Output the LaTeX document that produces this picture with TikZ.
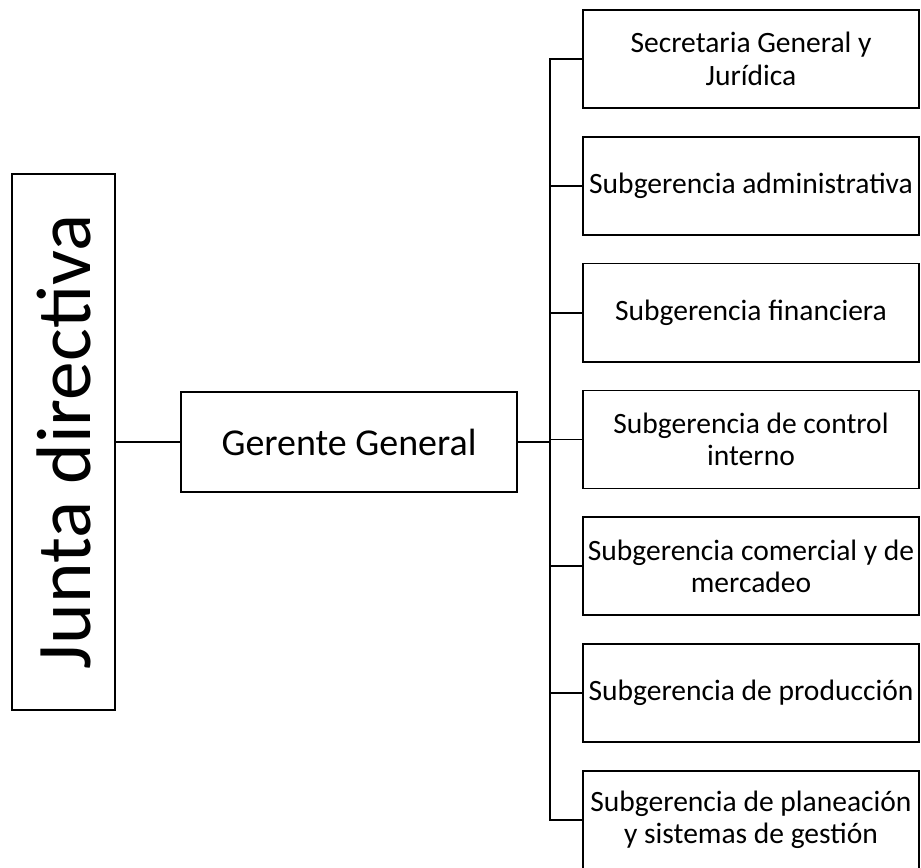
\documentclass[tikz,border=0pt]{standalone}
\usepackage{fontspec}
\setmainfont{Carlito}
\usetikzlibrary{positioning}
\tikzset{dept/.style={draw, line width=1.2pt, align=center, inner sep=1pt},
        subunit/.style={dept, minimum width=8.4cm, minimum height=2.45cm,
                        font=\fontsize{21}{23}\selectfont},
        link/.style={line width=1.2pt, line cap=rect},
        }

\begin{document}
\begin{tikzpicture}[x=0.025cm, y=-0.025cm]
    \useasboundingbox (0,0) rectangle (921,868);

    \node [dept, minimum width=2.575cm, minimum height=13.4cm] (junta) at (63.5,442)
        {\rotatebox{90}{\fontsize{55}{60}\selectfont Junta directiva}};

    \node [dept, minimum width=8.4cm, minimum height=2.5cm,
           font=\fontsize{27}{30}\selectfont] (gerente) at (349,442) {Gerente General};

    \foreach \txt [count=\i] in {{Secretaria General y\\Jur\'idica},
                                 {Subgerencia administrativa},
                                 {Subgerencia financiera},
                                 {Subgerencia de control\\interno},
                                 {Subgerencia comercial y de\\mercadeo},
                                 {Subgerencia de producci\'on},
                                 {Subgerencia de planeaci\'on\\y sistemas de gesti\'on}}
        \node [subunit] (sub\i) at (751,{59+126.83*(\i-1)}) {\txt};

    \coordinate (bus) at (550,442);

    \draw [link] (junta.east) -- (gerente.west);
    \draw [link] (gerente.east) -- (bus);
    \draw [link] (bus |- sub1) -- (bus |- sub7);
    \foreach \i in {1,...,7}
        \draw [link] (bus |- sub\i) -- (sub\i.west);

\end{tikzpicture}
\end{document}
